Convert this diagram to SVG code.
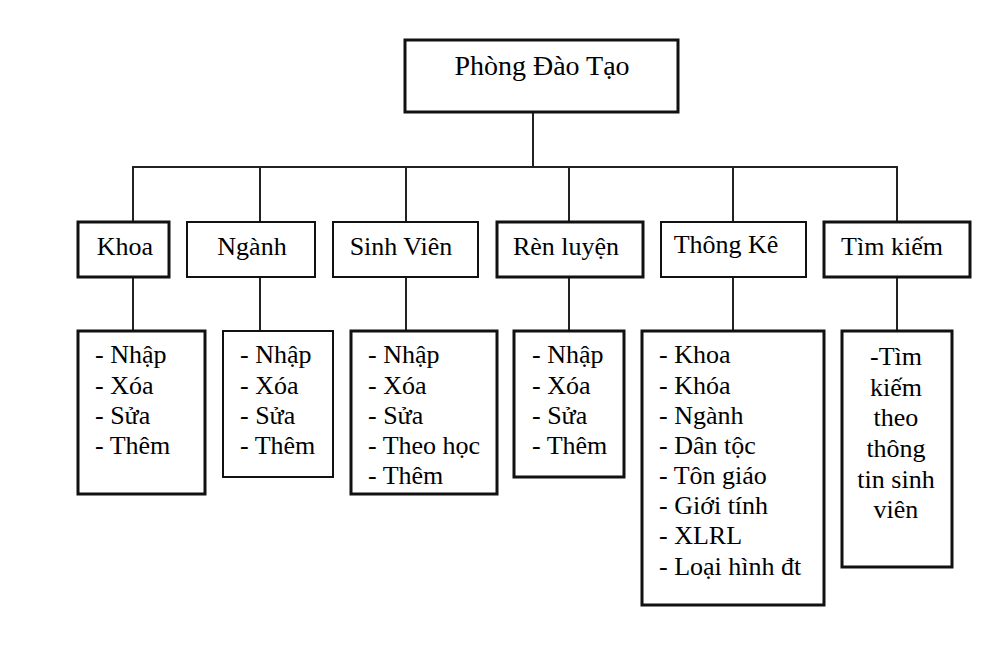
<svg xmlns="http://www.w3.org/2000/svg" width="999" height="649" viewBox="0 0 999 649">
<style>
.box{fill:#fff;stroke:#111;stroke-width:2}
.thick{stroke-width:3}
.c line{stroke:#222;stroke-width:2}
text{font-family:"Liberation Serif","Times New Roman",serif;font-size:26px;fill:#000}
.m{text-anchor:middle}
.top{font-size:28px}
</style>
<rect width="999" height="649" fill="#fff"/>
<g id="connectors" class="c">
<line x1="533" y1="112" x2="533" y2="167"/>
<line x1="132" y1="167" x2="898" y2="167"/>
<line x1="133" y1="166" x2="133" y2="222"/>
<line x1="260" y1="166" x2="260" y2="222"/>
<line x1="406" y1="166" x2="406" y2="222"/>
<line x1="569" y1="166" x2="569" y2="222"/>
<line x1="733" y1="166" x2="733" y2="222"/>
<line x1="897" y1="166" x2="897" y2="222"/>
<line x1="133" y1="277" x2="133" y2="331"/>
<line x1="260" y1="277" x2="260" y2="331"/>
<line x1="406" y1="277" x2="406" y2="331"/>
<line x1="569" y1="277" x2="569" y2="331"/>
<line x1="733" y1="277" x2="733" y2="331"/>
<line x1="897" y1="277" x2="897" y2="331"/>
</g>
<g id="phong-dao-tao">
<rect x="405" y="40" width="273" height="72" class="box thick"/>
<text x="542" y="75" class="m top">Phòng Đào Tạo</text>
</g>
<g id="khoa">
<rect x="78" y="222" width="91" height="55" class="box thick"/>
<text x="125" y="255" class="m">Khoa</text>
</g>
<g id="nganh">
<rect x="187" y="222" width="128" height="55" class="box"/>
<text x="252" y="255" class="m">Ngành</text>
</g>
<g id="sinh-vien">
<rect x="333" y="222" width="145" height="55" class="box"/>
<text x="401" y="255" class="m">Sinh Viên</text>
</g>
<g id="ren-luyen">
<rect x="497" y="222" width="146" height="55" class="box thick"/>
<text x="566" y="255" class="m">Rèn luyện</text>
</g>
<g id="thong-ke">
<rect x="661" y="222" width="145" height="55" class="box"/>
<text x="726" y="253" class="m">Thông Kê</text>
</g>
<g id="tim-kiem">
<rect x="824" y="222" width="146" height="55" class="box thick"/>
<text x="892" y="255" class="m">Tìm kiếm</text>
</g>
<g id="khoa-ops">
<rect x="78" y="331" width="127" height="163" class="box thick"/>
<text x="95" y="363">- Nhập</text>
<text x="95" y="394">- Xóa</text>
<text x="95" y="424">- Sửa</text>
<text x="95" y="454">- Thêm</text>
</g>
<g id="nganh-ops">
<rect x="223" y="331" width="110" height="146" class="box"/>
<text x="240" y="363">- Nhập</text>
<text x="240" y="394">- Xóa</text>
<text x="240" y="424">- Sửa</text>
<text x="240" y="454">- Thêm</text>
</g>
<g id="sinh-vien-ops">
<rect x="351" y="331" width="146" height="163" class="box thick"/>
<text x="368" y="363">- Nhập</text>
<text x="368" y="394">- Xóa</text>
<text x="368" y="424">- Sửa</text>
<text x="368" y="454">- Theo học</text>
<text x="368" y="484">- Thêm</text>
</g>
<g id="ren-luyen-ops">
<rect x="514" y="331" width="110" height="146" class="box thick"/>
<text x="532" y="363">- Nhập</text>
<text x="532" y="394">- Xóa</text>
<text x="532" y="424">- Sửa</text>
<text x="532" y="454">- Thêm</text>
</g>
<g id="thong-ke-ops">
<rect x="642" y="331" width="182" height="274" class="box thick"/>
<text x="659" y="363">- Khoa</text>
<text x="659" y="394">- Khóa</text>
<text x="659" y="424">- Ngành</text>
<text x="659" y="454">- Dân tộc</text>
<text x="659" y="484">- Tôn giáo</text>
<text x="659" y="514">- Giới tính</text>
<text x="659" y="544">- XLRL</text>
<text x="659" y="575">- Loại hình đt</text>
</g>
<g id="tim-kiem-ops">
<rect x="842" y="331" width="110" height="236" class="box thick"/>
<text x="896" y="365" class="m">-Tìm</text>
<text x="896" y="396" class="m">kiếm</text>
<text x="896" y="426" class="m">theo</text>
<text x="896" y="457" class="m">thông</text>
<text x="896" y="488" class="m">tin sinh</text>
<text x="896" y="518" class="m">viên</text>
</g>
</svg>
